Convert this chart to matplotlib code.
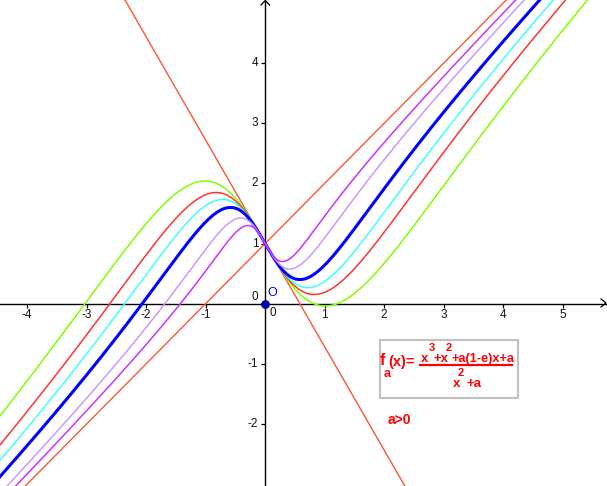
import numpy as np
import matplotlib
matplotlib.use('Agg')
import matplotlib.pyplot as plt
import matplotlib.transforms as mtransforms
from matplotlib.markers import TICKDOWN, TICKLEFT
from matplotlib.patches import Rectangle

W, H = 607, 486

# parameter values of the family f_a, outermost curve first
a_values = [3, 2, 1.5, 1, 0.5, 0.25]
curve_colors = ['#80FF00', '#FF3333', '#40FFFF', '#0000FF', '#CC99FF', '#CC33FF']
curve_widths = [1.1, 1.1, 1.1, 2.2, 1.1, 1.1]

x_ticks = [-4, -3, -2, -1, 1, 2, 3, 4, 5]
y_ticks = [-2, -1, 1, 2, 3, 4]

# view window (graphing-calculator style, axes through the origin)
x_min, x_max = -4.457, 5.745
y_min, y_max = -3.033, 5.05

line_color = '#FF5533'
text_red = '#FF0000'


def f(x, a):
    return (x**3 + x**2 + a * (1 - np.e) * x + a) / (x**2 + a)


plt.rcParams['font.family'] = ['Liberation Sans', 'DejaVu Sans']
fig = plt.figure(figsize=(W / 100, H / 100), dpi=100)
ax = fig.add_axes([0, 0, 1, 1])
ax.set_xlim(x_min, x_max)
ax.set_ylim(y_min, y_max)
ax.axis('off')

# pixel coordinates measured from the top-left corner
pix = mtransforms.Affine2D().scale(1 / W, -1 / H).translate(0, 1) + fig.transFigure

# axes with arrows and ticks
ax.axhline(0, color='black', lw=1.0, zorder=1)
ax.axvline(0, color='black', lw=1.0, zorder=1)
ax.plot([601, 606, 601], [299, 303, 307], color='black', lw=0.9, transform=pix, clip_on=False)
ax.plot([261, 265.3, 269.6], [5, 0.5, 5], color='black', lw=0.9, transform=pix, clip_on=False)
ax.plot(x_ticks, [0] * len(x_ticks), ls='none', marker=TICKDOWN, ms=3.2, mew=0.9, color='black')
ax.plot([0] * len(y_ticks), y_ticks, ls='none', marker=TICKLEFT, ms=3.2, mew=0.9, color='black')

below = mtransforms.offset_copy(ax.transData, fig, x=0, y=-11, units='dots')
left = mtransforms.offset_copy(ax.transData, fig, x=-7, y=0, units='dots')
tick_style = dict(fontsize=8.5, color='#111111')
for t in x_ticks:
    ax.text(t, 0, str(t), transform=below, ha='center', va='center', **tick_style)
for t in y_ticks:
    ax.text(0, t, str(t), transform=left, ha='right', va='center', **tick_style)
ax.text(255, 297, '0', transform=pix, ha='center', va='center', **tick_style)
ax.text(272.7, 313, '0', transform=pix, ha='center', va='center', **tick_style)

# asymptote y = x + 1 and common tangent at (0, 1)
xs = np.linspace(x_min - 1, x_max + 1, 800)
ax.plot(xs, xs + 1, color=line_color, lw=1.0, zorder=2)
ax.plot(xs, 1 + (1 - np.e) * xs, color=line_color, lw=1.0, zorder=2)

for a, c, w in zip(a_values, curve_colors, curve_widths):
    ax.plot(xs, f(xs, a), color=c, lw=w, zorder=3)

# origin point
ax.plot([0], [0], 'o', ms=5.5, mfc='#0000CC', mec='#000066', mew=0.8, zorder=5, clip_on=False)
ax.text(272.3, 293, 'O', transform=pix, ha='center', va='center', fontsize=9, color='#0000FF')

# formula box
ax.add_patch(Rectangle((379.5, 339.5), 138, 58, transform=pix, facecolor='white',
                       edgecolor='#C0C0C0', lw=1.5, zorder=6, clip_on=False))
bold = dict(transform=pix, color=text_red, fontweight='bold', zorder=7, va='baseline')
ax.text(380, 365, 'f', fontsize=11.5, ha='left', **bold)
ax.text(383.5, 376.5, 'a', fontsize=9, ha='left', **bold)
ax.text(388.5, 365.5, '(x)=', fontsize=10.5, ha='left', **bold)
ax.plot([420, 512], [364.5, 364.5], color=text_red, lw=1.6, transform=pix, zorder=7)
ax.text(420.7, 361.5, 'x', fontsize=9.5, ha='left', **bold)
ax.text(431.5, 350.5, '3', fontsize=8, ha='center', **bold)
ax.text(433, 361.5, '+x', fontsize=9.5, ha='left', **bold)
ax.text(448.5, 350.5, '2', fontsize=8, ha='center', **bold)
ax.text(451.5, 361.5, '+a(1-e)x+a', fontsize=9.2, ha='left', **bold)
ax.text(452.7, 386.5, 'x', fontsize=9.5, ha='left', **bold)
ax.text(460.5, 376, '2', fontsize=8, ha='center', **bold)
ax.text(466.7, 386.5, '+a', fontsize=9.5, ha='left', **bold)
ax.text(388, 424, 'a>0', fontsize=10, ha='left', **bold)

fig.savefig('out.png', dpi=100)
